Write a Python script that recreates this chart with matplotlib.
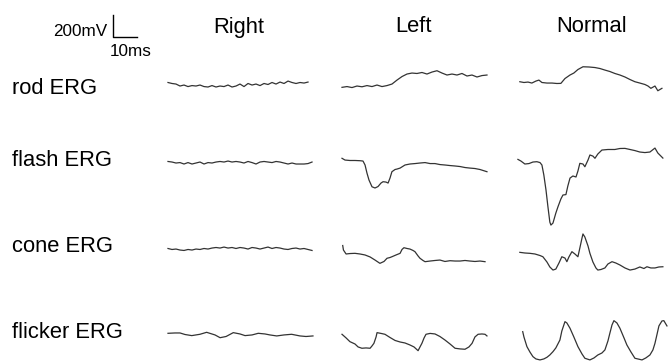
import numpy as np
import matplotlib.pyplot as plt

plt.rcParams['font.family'] = ['Liberation Sans', 'DejaVu Sans']

# --- layout: 10 ms = 24 px, 200 mV = 22 px ---
MS_PER_PX = 10 / 24
MV_PER_PX = 200 / 22
W, H = 668, 363

columns = ["Right", "Left", "Normal"]
rows = ["rod ERG", "flash ERG", "cone ERG", "flicker ERG"]
col_start_ms = [70.0, 142.5, 215.8]           # left edge of each trace column
row_base_mv = [-773, -1464, -2291, -3036]     # baseline of each row

# noisy traces sampled at a fixed interval (ms)
dt_fine = 1.667
dt_rod_left = 2.083

# ---------- rod ERG ----------
rod_right_v = [23, 14, 9, -9, 0, -14, -5, -9, 0, -14, -18, -5, -18, -9, -14, 0, -18, -9,
               9, -14, 14, 0, 9, -5, 14, 5, 23, 9, 27, 14, 36, 23, 14, 23, 18, 27]
rod_left_v = [-21, -14, -23, -9, -16, -5, -14, 0, -14, -5, 9, 45, 77, 100, 109, 105, 114, 100,
              118, 130, 109, 91, 100, 91, 105, 82, 91, 73, 86, 91]
rod_normal_t = [0.8, 2.5, 4.2, 5.8, 7.5, 8.75, 10, 12.1, 14.2, 16.25, 17.9, 19.6, 21.7, 23.3,
                25, 27.1, 29.6, 32.1, 34.2, 36.25, 38.3, 40.4, 42.5, 44.6, 46.7, 48.75, 50.8,
                52.9, 54.2, 55.4, 57.1, 58.3, 60]
rod_normal_v = [30, 23, 27, 18, 36, 45, 23, 18, 18, 14, 15, 59, 91, 109, 141, 166, 164, 159,
                150, 136, 123, 105, 91, 73, 50, 30, 18, 5, -9, -30, -9, -52, -30]

# ---------- flash ERG ----------
flash_right_v = [-4, -9, -18, -14, -27, -14, -27, -18, -9, -27, -14, -18, -9, -4, -9, 0, -9,
                 -4, -9, -18, -4, -14, -27, -9, -4, -9, -14, -4, -9, -18, -27, -18, -27, -27,
                 -27, -23, -9]
flash_left_t = [0, 1.25, 3.3, 5.4, 7.5, 8.75, 9.6, 10.4, 11.25, 12.5, 13.75, 15, 16.25, 17.1,
                18.3, 19.2, 20, 20.8, 22.1, 22.9, 24.2, 26.25, 28.3, 30.4, 32.5, 34.6, 36.7,
                38.75, 40.8, 42.9, 45, 47.1, 49.2, 51.25, 53.3, 55.4, 57.5, 60.4]
flash_left_v = [25, 9, 5, 5, 3, 0, -36, -109, -173, -234, -245, -232, -200, -188, -191, -200,
                -155, -97, -77, -73, -64, -36, -27, -23, -18, -14, -23, -23, -32, -36, -41,
                -45, -50, -59, -64, -68, -77, -97]
flash_normal_t = [0, 1.25, 2.9, 4.6, 6.25, 7.9, 9.2, 10, 10.8, 11.7, 12.5, 13.3, 13.75, 14.6,
                  15.8, 16.7, 17.9, 18.75, 20, 20.8, 21.7, 22.9, 24.2, 25, 25.8, 27.1, 27.9,
                  29.2, 30, 31.25, 32.1, 33.3, 35, 37.5, 40.4, 42.5, 44.6, 46.7, 48.75, 50.8,
                  52.9, 55, 57.1, 58.3, 60.4]
flash_normal_v = [15, 0, -27, -23, -9, -6, -14, -36, -127, -264, -415, -555, -582, -564, -473,
                  -415, -345, -309, -305, -227, -155, -136, -145, -91, -21, -27, -52, 9, 55,
                  45, 25, 64, 100, 105, 105, 114, 115, 105, 95, 82, 77, 82, 118, 73, 27]

# ---------- cone ERG ----------
cone_right_v = [32, 23, 27, 18, 14, 23, 18, 27, 23, 32, 27, 36, 41, 36, 45, 36, 41, 32, 41, 36,
                27, 41, 36, 27, 36, 45, 32, 41, 36, 27, 23, 32, 36, 27, 32, 23, 14]
cone_left_t = [0.3, 0.6, 1.7, 3.3, 5.4, 7.5, 9.6, 11.7, 13.75, 15.8, 17.5, 18.75, 20, 20.8,
               22.5, 24.2, 25, 25.8, 27.1, 28.3, 29.6, 30.4, 31.7, 32.5, 33.75, 34.6, 36.7,
               38.75, 40.8, 42.9, 45, 47.1, 49.2, 51.25, 53.3, 55.4, 57.5, 59.6]
cone_left_v = [59, 18, -18, -14, -12, -18, -27, -45, -73, -103, -86, -57, -50, -43, -27, -12,
               23, 39, 32, 27, 14, 3, -36, -57, -77, -88, -82, -77, -73, -86, -79, -82, -82,
               -77, -82, -86, -82, -88]
cone_normal_t = [0.8, 2.9, 5, 7.1, 9.2, 10.4, 12.1, 13.3, 14.6, 15.8, 17.1, 18.3, 19.6, 20.4,
                 21.25, 22.5, 23.75, 25, 25.8, 26.7, 27.1, 27.9, 29.2, 30, 31.25, 32.5, 33.3,
                 34.6, 36.25, 37.5, 39.2, 40.8, 42.5, 44.6, 46.7, 48.75, 50.8, 52.5, 53.75,
                 55.4, 57.1, 58.75, 60.4]
cone_normal_v = [-3, -9, -12, -18, -32, -43, -91, -136, -164, -155, -100, -43, -55, -88, -45,
                 3, -18, -43, 36, 127, 164, 136, 55, -12, -91, -145, -164, -159, -145, -109,
                 -88, -100, -118, -145, -164, -155, -136, -150, -134, -145, -145, -136, -134]

# ---------- flicker ERG ----------
flicker_right_t = [0, 2.9, 5, 7.1, 9.9, 13.3, 16.1, 19.6, 21.7, 24.2, 27.2, 30, 32.1, 35, 37.6,
                   40.4, 42.5, 45.3, 48.3, 51.5, 55, 57.5, 60.4]
flicker_right_v = [6, 9, 9, -5, -15, -3, 15, -9, -34, -23, 12, 0, -15, -9, 6, 0, -9, -18, -9,
                   -3, -18, -23, -18]
flicker_left_t = [0, 1.7, 3.3, 5.4, 6.7, 8.3, 10, 11.7, 12.5, 13.3, 14.2, 14.6, 16.25, 17.9,
                  20, 22.1, 24.2, 26.25, 28.3, 30, 31.7, 32.5, 33.3, 34.2, 35, 36.7, 38.75,
                  40.8, 42.9, 45, 47.1, 49.2, 51.25, 52.9, 54.2, 55.4, 56.7, 58.3, 59.6, 60.4]
flicker_left_v = [-3, -36, -70, -91, -118, -130, -127, -130, -109, -85, -27, 12, 5, -3, -32,
                  -59, -73, -82, -100, -118, -152, -118, -85, -36, -3, 5, 0, -23, -55, -91,
                  -130, -136, -139, -118, -85, -27, -3, 0, -3, -18]
flicker_normal_t = [2, 2.5, 3.75, 5, 6.25, 7.5, 9.2, 10.8, 12.1, 13.3, 14.6, 15.8, 17.5, 18.3,
                    19.6, 20.4, 21.7, 23.3, 25, 26.7, 27.9, 30, 31.7, 33.3, 35, 36.25, 37.5,
                    38.3, 39.2, 40, 41.25, 42.5, 44.2, 45.4, 47.1, 48.75, 51.7, 53.3, 55,
                    56.25, 57.1, 57.9, 58.75, 60, 60.8, 62.1]
flicker_normal_v = [21, -27, -115, -164, -206, -227, -236, -227, -212, -191, -161, -127, -55,
                    27, 112, 100, 52, -27, -115, -182, -221, -236, -218, -191, -173, -145,
                    -64, 6, 82, 121, 100, 52, -36, -100, -164, -221, -236, -218, -191, -145,
                    -85, -9, 73, 118, 121, 73]


def sampled(values, dt):
    return np.arange(len(values)) * dt, np.asarray(values)


traces = {
    (0, 0): sampled(rod_right_v, dt_fine),
    (0, 1): sampled(rod_left_v, dt_rod_left),
    (0, 2): (np.array(rod_normal_t), np.array(rod_normal_v)),
    (1, 0): sampled(flash_right_v, dt_fine),
    (1, 1): (np.array(flash_left_t), np.array(flash_left_v)),
    (1, 2): (np.array(flash_normal_t), np.array(flash_normal_v)),
    (2, 0): sampled(cone_right_v, dt_fine),
    (2, 1): (np.array(cone_left_t), np.array(cone_left_v)),
    (2, 2): (np.array(cone_normal_t), np.array(cone_normal_v)),
    (3, 0): (np.array(flicker_right_t), np.array(flicker_right_v)),
    (3, 1): (np.array(flicker_left_t), np.array(flicker_left_v)),
    (3, 2): (np.array(flicker_normal_t), np.array(flicker_normal_v)),
}

fig = plt.figure(figsize=(W / 100, H / 100), dpi=100)
ax = fig.add_axes([0, 0, 1, 1])
ax.set_xlim(0, W * MS_PER_PX)
ax.set_ylim(-H * MV_PER_PX, 0)
ax.axis('off')

for (r, c), (t, v) in traces.items():
    ax.plot(col_start_ms[c] + t, row_base_mv[r] + v, color='#333333', lw=0.9)

# scale bar: 200 mV / 10 ms
bar_x, bar_y = 47.0, -333
ax.plot([bar_x, bar_x, bar_x + 10], [bar_y + 200, bar_y, bar_y], color='black', lw=1.0)
fig.text(107 / W, 1 - 31 / H, "200mV", ha='right', va='center', fontsize=12.3)
fig.text(110 / W, 1 - 52 / H, "10ms", ha='left', va='center', fontsize=12.3)

# column headers and row labels
for name, cx in zip(columns, [239, 414, 592]):
    fig.text(cx / W, 1 - 27 / H, name, ha='center', va='center', fontsize=15.8)
for name, cy in zip(rows, [88, 160, 247, 333]):
    fig.text(12 / W, 1 - cy / H, name, ha='left', va='center', fontsize=15.8)

fig.savefig("out.png", dpi=100)
